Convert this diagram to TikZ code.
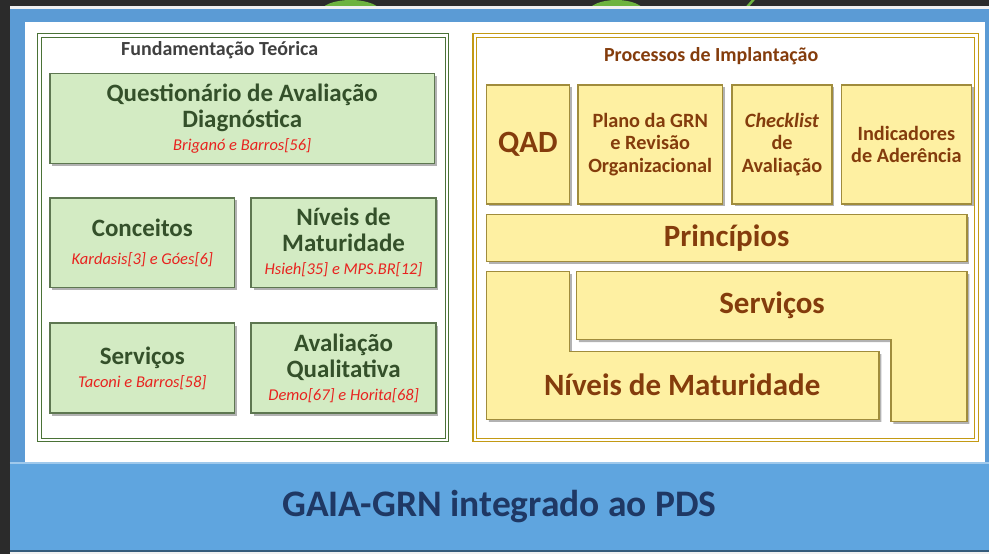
\documentclass[tikz,border=0pt]{standalone}
\usepackage{fontspec}
\setmainfont{Carlito}
\usetikzlibrary{positioning,shadows}

\definecolor{darkbg}{HTML}{2B2B2B}
\definecolor{logogreen}{HTML}{6DB33F}
\definecolor{frameblue}{HTML}{5B9BD5}
\definecolor{bandblue}{HTML}{5FA5DF}
\definecolor{bandtext}{HTML}{1F3864}
\definecolor{fundgreen}{HTML}{4A7236}
\definecolor{boxgreen}{HTML}{D3EBC3}
\definecolor{edgegreen}{HTML}{5E7751}
\definecolor{textgreen}{HTML}{34502A}
\definecolor{refred}{HTML}{E8231F}
\definecolor{procgold}{HTML}{C39A14}
\definecolor{boxyellow}{HTML}{FEF0A2}
\definecolor{edgeyellow}{HTML}{A08C3C}
\definecolor{textbrown}{HTML}{843C0C}

\newcommand{\refnote}[1]{{\fontsize{16.5}{18}\selectfont\mdseries\itshape\color{refred}#1}}

\begin{document}
\begin{tikzpicture}[x=1pt,y=-1pt,node distance=7pt,
    green box/.style={draw=edgegreen,line width=1.5pt,fill=boxgreen,drop shadow={shadow xshift=2.5pt,shadow yshift=-2.5pt,opacity=.6},inner sep=0pt,align=center,text=textgreen,font=\fontsize{25}{26}\selectfont\bfseries},
    yellow box/.style={draw=edgeyellow,line width=1.5pt,fill=boxyellow,drop shadow={shadow xshift=2.5pt,shadow yshift=-2.5pt,opacity=.6},inner sep=0pt,align=center,text=textbrown,font=\fontsize{20.3}{22.5}\selectfont\bfseries},
    big brown/.style={text=textbrown,font=\fontsize{31}{34}\selectfont\bfseries},
    panel/.style={double=white,double distance=2.5pt,line width=1.2pt,inner sep=0pt},
    panel title/.style={font=\fontsize{20}{22}\selectfont\bfseries}]

    % screen and frame
    \fill[darkbg] (0,0) rectangle (990,555);
    \begin{scope}
        \clip (0,0) rectangle (990,6);
        \fill[logogreen] (351,12) ellipse (30 and 12);
        \fill[logogreen] (617,12) ellipse (28 and 12);
        \draw[logogreen,line width=2.5pt] (755,-1) -- (748,7);
    \end{scope}
    \fill[gray!12] (10,6) rectangle (990,555);
    \fill[frameblue] (10,9) rectangle (990,463);
    \fill[white] (25,22) rectangle (986,463);

    % Fundamentacao Teorica
    \node[panel,draw=fundgreen,minimum width=408,minimum height=405] (fund) at (243.5,238) {};
    \node[panel title,text=black!75] (fundtitle) at (220,50) {Fundamentação Teórica};

    \node[green box,minimum width=385,minimum height=90] (qdiag) at (242.5,118.5) {Questionário de Avaliação\\Diagnóstica\\[-3pt]\refnote{Briganó e Barros[56]}};
    \node[green box,minimum width=185,minimum height=90] (conceitos) at (142.5,243) {Conceitos\\[2pt]\refnote{Kardasis[3] e Góes[6]}};
    \node[green box,minimum width=185,minimum height=90] (niveis) [right=15pt of conceitos] {Níveis de\\Maturidade\\[-3pt]\refnote{Hsieh[35] e MPS.BR[12]}};
    \node[green box,minimum width=185,minimum height=90] (servicos) [below=34pt of conceitos] {Serviços\\[-3pt]\refnote{Taconi e Barros[58]}};
    \node[green box,minimum width=185,minimum height=90] (avaliacao) [right=15pt of servicos] {Avaliação\\Qualitativa\\[-3pt]\refnote{Demo[67] e Horita[68]}};

    % Processos de Implantacao
    \node[panel,draw=procgold,minimum width=502,minimum height=405] (proc) at (726.5,238) {};
    \node[panel title,text=textbrown] (proctitle) at (712,56) {Processos de Implantação};

    \node[yellow box,minimum width=83,minimum height=119] (qad) at (528.5,144.5) {\fontsize{31}{34}\selectfont QAD};
    \node[yellow box,minimum width=145,minimum height=119] (plano) [right=of qad] {Plano da GRN\\e Revisão\\Organizacional};
    \node[yellow box,minimum width=100,minimum height=119] (checklist) [right=8pt of plano] {\textit{Checklist}\\de\\Avaliação};
    \node[yellow box,minimum width=130,minimum height=119] (indicadores) [right=8pt of checklist] {Indicadores\\de Aderência};
    \node[yellow box,minimum width=481,minimum height=47,font=\fontsize{31}{34}\selectfont\bfseries] (principios) at (727.5,238.5) {Princípios};

    \filldraw[draw=edgeyellow,line width=1.5pt,fill=boxyellow,drop shadow={shadow xshift=2.5pt,shadow yshift=-2.5pt,opacity=.6}]
        (487,272) -- (570,272) -- (570,352) -- (880,352) -- (880,420) -- (487,420) -- cycle;
    \filldraw[draw=edgeyellow,line width=1.5pt,fill=boxyellow,drop shadow={shadow xshift=2.5pt,shadow yshift=-2.5pt,opacity=.6}]
        (577,272) -- (968,272) -- (968,422) -- (892,422) -- (892,340) -- (577,340) -- cycle;
    \node[big brown] (servlabel) at (773,306) {Serviços};
    \node[big brown] (nivlabel) at (683,385) {Níveis de Maturidade};

    % base band
    \node[fill=bandblue,minimum width=980,minimum height=89,inner sep=0pt,text=bandtext,font=\fontsize{37.5}{40}\selectfont\bfseries] (gaia) at (500,507.5) {GAIA-GRN integrado ao PDS};
    \draw[bandblue!55!black,line width=2pt] ([yshift=1pt]gaia.south west) -- ([yshift=1pt]gaia.south east);
    \draw[bandblue!60!white,line width=1.5pt] ([yshift=-1pt]gaia.north west) -- ([yshift=-1pt]gaia.north east);
\end{tikzpicture}
\end{document}
